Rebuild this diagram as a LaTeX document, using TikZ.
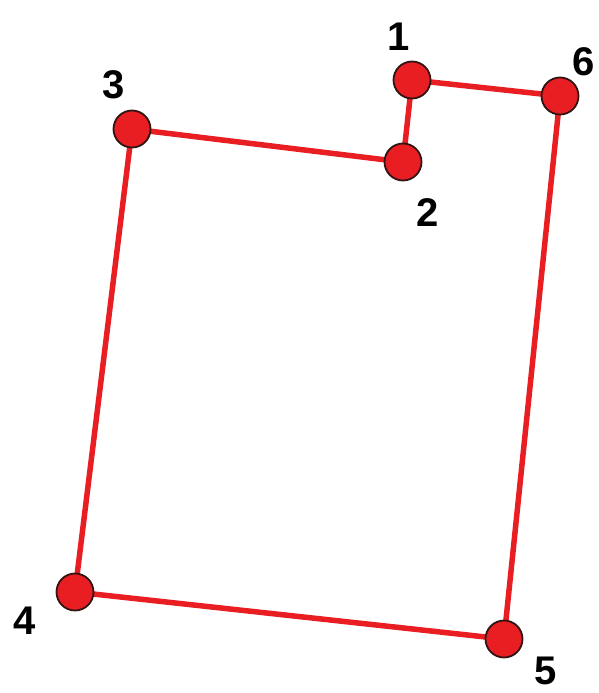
\documentclass[tikz,border=0pt]{standalone}
\usepackage{fontspec}
\setmainfont{Liberation Sans}
\usepackage{tikz}
\usetikzlibrary{positioning, calc}

\definecolor{ptred}{RGB}{232,30,34}
\definecolor{ptedge}{RGB}{50,20,20}

\begin{document}
\begin{tikzpicture}[x=1pt, y=-1pt,
    vertex/.style={circle, draw=ptedge, line width=1.8pt, fill=ptred, minimum size=37pt, inner sep=0pt},
    num/.style={font=\fontsize{40}{40}\selectfont\bfseries, text=black, inner sep=0pt},
    edge/.style={draw=ptred, line width=5.5pt}]
    \useasboundingbox (0,0) rectangle (598,693);

    % Points of the polygon
    \coordinate (c1) at (412,80);
    \coordinate (c2) at (403,162);
    \coordinate (c3) at (132,129);
    \coordinate (c4) at (75,592);
    \coordinate (c5) at (504,639);
    \coordinate (c6) at (560,96);

    % Sides
    \draw[edge] (c1) -- (c2) -- (c3) -- (c4) -- (c5) -- (c6) -- (c1);

    % Vertices
    \foreach \i in {1,...,6}
        \node[vertex] (v\i) at (c\i) {};

    % Numbers
    \node[num] (n1) at (399,37) {1};
    \node[num] (n2) at (428,213) {2};
    \node[num] (n3) at (114,85) {3};
    \node[num] (n4) at (25,621) {4};
    \node[num] (n5) at (546,671) {5};
    \node[num] (n6) at (584,62) {6};
\end{tikzpicture}
\end{document}
